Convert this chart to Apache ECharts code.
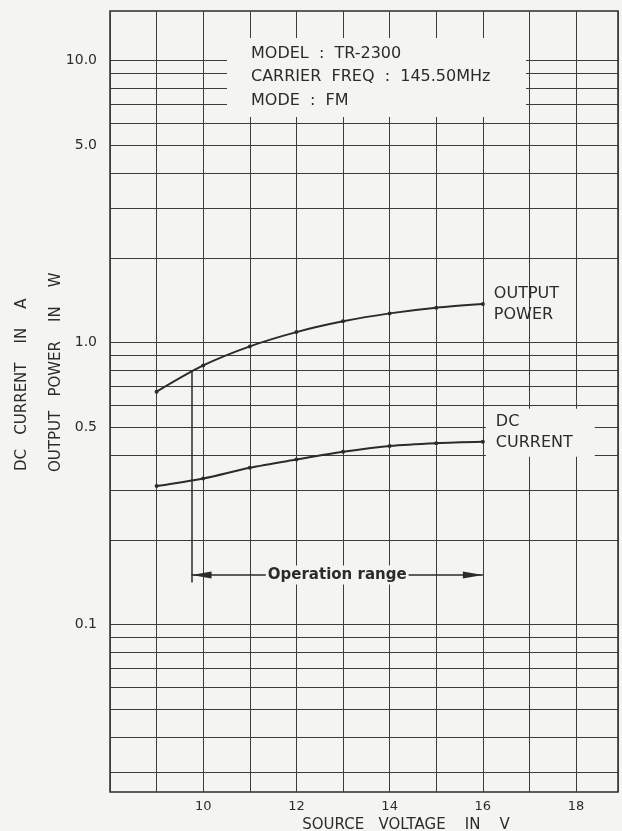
<!DOCTYPE html>
<html>
<head>
<meta charset="utf-8">
<script src="https://cdn.jsdelivr.net/npm/echarts@6/dist/echarts.min.js"></script>
<style>
  html, body { margin: 0; padding: 0; background: #f4f4f1; }
  #chart { width: 622px; height: 831px; }
</style>
</head>
<body>
<div id="chart"></div>
<script>
// source voltage (V)
const voltage = [9, 10, 11, 12, 13, 14, 15, 16]
// output power (W)
const outputPower = [0.67, 0.83, 0.97, 1.09, 1.19, 1.27, 1.33, 1.37]
// dc current (A)
const dcCurrent = [0.31, 0.33, 0.36, 0.385, 0.41, 0.43, 0.44, 0.445]

// axis labels / log paper lines
const xLabels = [10, 12, 14, 16, 18]
const yLabels = [0.1, 0.5, 1, 5, 10]
const yGrid = [
  0.03, 0.04, 0.05, 0.06, 0.07, 0.08, 0.09,
  0.1, 0.2, 0.3, 0.4, 0.5, 0.6, 0.7, 0.8, 0.9,
  1, 2, 3, 4, 5, 6, 7, 8, 9,
  10
]

// operation range marker
const opRange = [9.75, 16]
const opArrowLevel = 0.15
const opMarkerSpan = [0.141, 0.8]

const noteLines = ['MODEL  :  TR-2300', 'CARRIER  FREQ  :  145.50MHz', 'MODE  :  FM']

const INK = '#2b2b2b'
const GRID = '#3c3c3c'
const PAPER = '#f4f4f1'
const FONT = '"DejaVu Sans", sans-serif'

const chart = echarts.init(document.getElementById('chart'))

const toPairs = (ys) => voltage.map((v, i) => [v, ys[i]])

const option = {
  backgroundColor: PAPER,
  animation: false,
  textStyle: { fontFamily: FONT, color: INK },
  grid: {
    show: true,
    left: 110,
    right: 4,
    top: 11,
    bottom: 39,
    outerBoundsMode: 'none',
    borderColor: INK,
    borderWidth: 1.5,
    backgroundColor: 'transparent'
  },
  xAxis: {
    type: 'value',
    min: 8,
    max: 18.9,
    interval: 1,
    axisLine: { show: false },
    axisTick: { show: false },
    splitLine: { show: true, lineStyle: { color: GRID, width: 1 } },
    axisLabel: {
      customValues: xLabels,
      margin: 8,
      fontSize: 13,
      color: INK,
      fontFamily: FONT
    },
    name: 'SOURCE   VOLTAGE    IN    V',
    nameLocation: 'middle',
    nameGap: 22,
    nameTextStyle: {
      fontSize: 15,
      color: INK,
      fontFamily: FONT,
      padding: [0, 0, 0, 84]
    }
  },
  yAxis: {
    type: 'log',
    logBase: 10,
    min: 0.0255,
    max: 15,
    axisLine: { show: false },
    axisTick: { show: false, customValues: yGrid },
    splitLine: { show: true, lineStyle: { color: GRID, width: 1 } },
    axisLabel: {
      customValues: yLabels,
      formatter: (v) => Number(v).toFixed(1),
      margin: 13,
      fontSize: 14,
      color: INK,
      fontFamily: FONT
    }
  },
  graphic: [
    // spec box (white patch over the grid)
    {
      type: 'rect',
      z: 100,
      shape: { x: 227, y: 38, width: 299, height: 79 },
      style: { fill: PAPER }
    },
    {
      type: 'text',
      z: 101,
      x: 251,
      y: 42,
      style: {
        text: noteLines.join('\n'),
        font: '16px ' + FONT,
        fill: INK,
        lineHeight: 23.5,
        align: 'left',
        verticalAlign: 'top'
      }
    },
    // y axis titles
    {
      type: 'text',
      z: 101,
      x: 22,
      y: 471,
      rotation: Math.PI / 2,
      style: {
        text: 'DC   CURRENT    IN    A',
        font: '15px ' + FONT,
        fill: INK,
        align: 'left',
        verticalAlign: 'middle'
      }
    },
    {
      type: 'text',
      z: 101,
      x: 56,
      y: 472,
      rotation: Math.PI / 2,
      style: {
        text: 'OUTPUT   POWER    IN    W',
        font: '15px ' + FONT,
        fill: INK,
        align: 'left',
        verticalAlign: 'middle'
      }
    }
  ],
  series: [
    {
      name: 'OUTPUT POWER',
      type: 'line',
      data: toPairs(outputPower),
      smooth: 0.3,
      symbol: 'circle',
      symbolSize: 4,
      itemStyle: { color: INK },
      lineStyle: { color: INK, width: 2 },
      z: 5,
      endLabel: {
        show: true,
        formatter: 'OUTPUT\nPOWER',
        distance: 11,
        fontSize: 16,
        lineHeight: 21,
        color: INK,
        fontFamily: FONT
      }
    },
    {
      name: 'DC CURRENT',
      type: 'line',
      data: toPairs(dcCurrent),
      smooth: 0.3,
      symbol: 'circle',
      symbolSize: 4,
      itemStyle: { color: INK },
      lineStyle: { color: INK, width: 2 },
      z: 5,
      endLabel: {
        show: true,
        formatter: 'DC\nCURRENT',
        distance: 3,
        offset: [0, -9],
        fontSize: 16,
        lineHeight: 21,
        color: INK,
        fontFamily: FONT,
        backgroundColor: PAPER,
        padding: [6, 22, 0, 10]
      }
    },
    {
      name: 'Operation range',
      type: 'line',
      data: [],
      z: 6,
      markLine: {
        silent: true,
        animation: false,
        symbol: 'none',
        lineStyle: { color: INK, width: 1.5, type: 'solid' },
        label: { show: false },
        data: [
          [
            { coord: [opRange[0], opMarkerSpan[0]] },
            { coord: [opRange[0], opMarkerSpan[1]] }
          ],
          [
            {
              coord: [opRange[0], opArrowLevel],
              symbol: 'triangle',
              symbolSize: [7, 20],
              symbolOffset: [0, 10],
              label: {
                show: true,
                position: 'insideMiddle',
                formatter: 'Operation range',
                fontSize: 15,
                fontWeight: 'bold',
                color: INK,
                fontFamily: FONT,
                backgroundColor: PAPER,
                padding: [2, 2]
              }
            },
            {
              coord: [opRange[1], opArrowLevel],
              symbol: 'triangle',
              symbolSize: [7, 20],
              symbolOffset: [0, 10]
            }
          ]
        ]
      }
    }
  ]
}

chart.setOption(option)
</script>
</body>
</html>
